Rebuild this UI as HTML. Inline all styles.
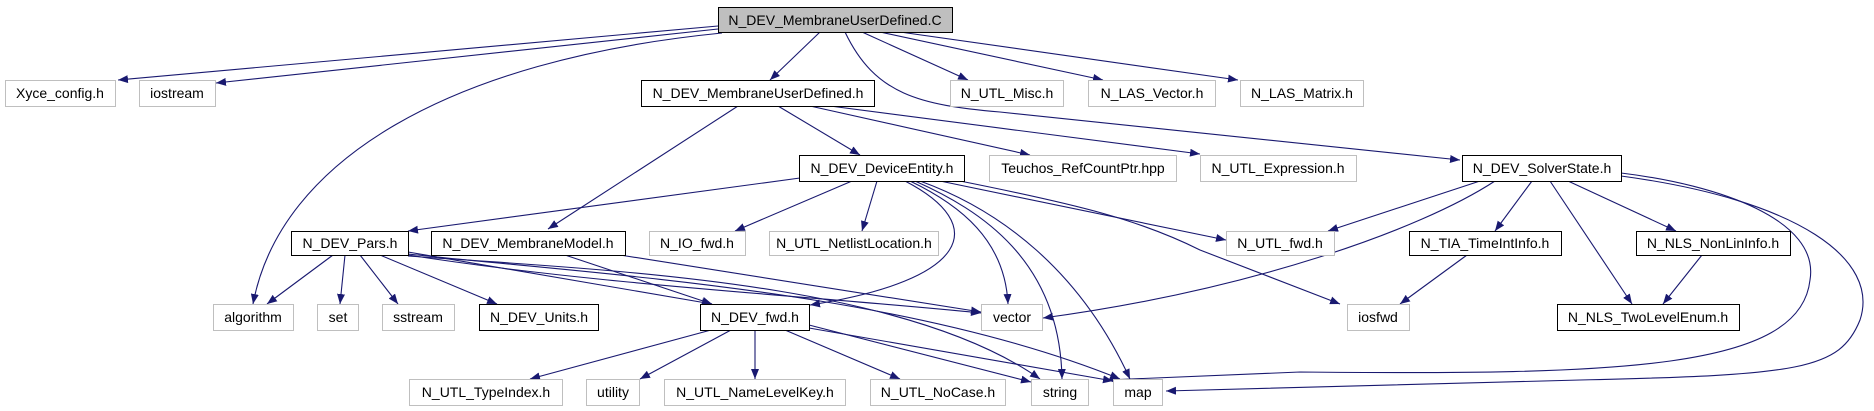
<!DOCTYPE html>
<html><head><meta charset="utf-8"><style>
html,body{margin:0;padding:0;background:#fff;}
svg{display:block;}
text{font-family:"Liberation Sans",Arial,sans-serif;font-size:14px;fill:#000;}
</style></head><body>
<svg width="1874" height="411" viewBox="0 0 1874 411" xmlns="http://www.w3.org/2000/svg">
<defs>
<marker id="a" markerWidth="10" markerHeight="8" refX="10" refY="4" orient="auto" markerUnits="userSpaceOnUse">
<path d="M0,0 L10,4 L0,8 z" fill="#191970"/>
</marker>
</defs>
<g fill="none" stroke="#191970" stroke-width="1.1" marker-end="url(#a)">
<path d="M718,26 L118,80"/>
<path d="M718,29 L216,83"/>
<path d="M722,33 C450,60 280,160 253,304"/>
<path d="M820,32 L770,80"/>
<path d="M862,32 L968,80"/>
<path d="M880,32 L1103,80"/>
<path d="M900,32 L1238,80"/>
<path d="M845,32 C875,95 920,105 1000,112 L1460,160"/>
<path d="M778,106 L860,155"/>
<path d="M738,106 L548,229"/>
<path d="M810,106 L1030,155"/>
<path d="M830,106 L1200,154"/>
<path d="M800,178 L408,231"/>
<path d="M852,181 L735,231"/>
<path d="M877,181 L862,231"/>
<path d="M905,181 C990,225 970,280 810,305"/>
<path d="M910,181 C960,205 1005,240 1008,304"/>
<path d="M915,181 C980,210 1060,260 1062,379"/>
<path d="M920,181 C1000,210 1080,270 1130,379"/>
<path d="M940,181 L1226,240"/>
<path d="M960,181 C1080,205 1140,220 1200,250 L1340,304"/>
<path d="M1480,181 L1328,231"/>
<path d="M1495,181 C1420,230 1250,290 1043,318"/>
<path d="M1532,181 L1495,231"/>
<path d="M1550,181 L1632,304"/>
<path d="M1568,181 L1676,231"/>
<path d="M1621,173 C1720,185 1820,220 1810,280 C1800,370 1620,375 1300,372 L1107,380"/>
<path d="M1621,176 C1800,200 1880,260 1860,320 C1840,370 1800,375 1580,380 L1166,391"/>
<path d="M1467,255 L1400,304"/>
<path d="M1702,255 L1663,304"/>
<path d="M333,255 L267,304"/>
<path d="M345,255 L340,304"/>
<path d="M360,255 L398,304"/>
<path d="M380,255 L497,304"/>
<path d="M408,252 L712,304"/>
<path d="M408,255 C600,285 800,295 981,313"/>
<path d="M408,256 C600,270 900,280 1040,379"/>
<path d="M408,254 C600,275 900,290 1120,379"/>
<path d="M565,255 L712,304"/>
<path d="M620,255 L981,312"/>
<path d="M711,330 L530,379"/>
<path d="M731,330 L640,379"/>
<path d="M755,330 L755,379"/>
<path d="M785,330 L900,379"/>
<path d="M809,325 L1031,382"/>
<path d="M809,328 L1113,381"/>
</g>
<g stroke-width="1">
<rect x="718.5" y="7.5" width="234" height="25" fill="#bfbfbf" stroke="#000"/>
<g fill="#fff" stroke="#bfbfbf">
<rect x="5.5" y="80.5" width="110" height="26"/>
<rect x="139.5" y="80.5" width="76" height="26"/>
<rect x="950.5" y="80.5" width="113" height="26"/>
<rect x="1088.5" y="80.5" width="127" height="26"/>
<rect x="1240.5" y="80.5" width="123" height="26"/>
<rect x="989.5" y="155.5" width="187" height="26"/>
<rect x="1200.5" y="155.5" width="156" height="26"/>
<rect x="649.5" y="231.5" width="96" height="24"/>
<rect x="769.5" y="231.5" width="169" height="24"/>
<rect x="1226.5" y="231.5" width="108" height="24"/>
<rect x="213.5" y="304.5" width="80" height="26"/>
<rect x="317.5" y="304.5" width="41" height="26"/>
<rect x="382.5" y="304.5" width="72" height="26"/>
<rect x="981.5" y="304.5" width="61" height="26"/>
<rect x="1347.5" y="304.5" width="62" height="26"/>
<rect x="409.5" y="379.5" width="153" height="26"/>
<rect x="586.5" y="379.5" width="53" height="26"/>
<rect x="664.5" y="379.5" width="181" height="26"/>
<rect x="870.5" y="379.5" width="135" height="26"/>
<rect x="1031.5" y="379.5" width="57" height="26"/>
<rect x="1113.5" y="379.5" width="49" height="26"/>
</g>
<g fill="#fff" stroke="#000">
<rect x="641.5" y="80.5" width="233" height="26"/>
<rect x="799.5" y="155.5" width="165" height="26"/>
<rect x="1462.5" y="155.5" width="159" height="26"/>
<rect x="291.5" y="231.5" width="117" height="24"/>
<rect x="431.5" y="231.5" width="194" height="24"/>
<rect x="1409.5" y="231.5" width="152" height="24"/>
<rect x="1636.5" y="231.5" width="154" height="24"/>
<rect x="479.5" y="304.5" width="119" height="26"/>
<rect x="700.5" y="304.5" width="109" height="26"/>
<rect x="1557.5" y="304.5" width="182" height="26"/>
</g>
</g>
<g text-anchor="middle">
<text x="835" y="25">N_DEV_MembraneUserDefined.C</text>
<text x="60" y="98">Xyce_config.h</text>
<text x="177" y="98">iostream</text>
<text x="758" y="98">N_DEV_MembraneUserDefined.h</text>
<text x="1007" y="98">N_UTL_Misc.h</text>
<text x="1152" y="98">N_LAS_Vector.h</text>
<text x="1302" y="98">N_LAS_Matrix.h</text>
<text x="882" y="173">N_DEV_DeviceEntity.h</text>
<text x="1083" y="173">Teuchos_RefCountPtr.hpp</text>
<text x="1278" y="173">N_UTL_Expression.h</text>
<text x="1542" y="173">N_DEV_SolverState.h</text>
<text x="350" y="248">N_DEV_Pars.h</text>
<text x="528" y="248">N_DEV_MembraneModel.h</text>
<text x="697" y="248">N_IO_fwd.h</text>
<text x="854" y="248">N_UTL_NetlistLocation.h</text>
<text x="1280" y="248">N_UTL_fwd.h</text>
<text x="1485" y="248">N_TIA_TimeIntInfo.h</text>
<text x="1713" y="248">N_NLS_NonLinInfo.h</text>
<text x="253" y="322">algorithm</text>
<text x="338" y="322">set</text>
<text x="418" y="322">sstream</text>
<text x="539" y="322">N_DEV_Units.h</text>
<text x="755" y="322">N_DEV_fwd.h</text>
<text x="1012" y="322">vector</text>
<text x="1378" y="322">iosfwd</text>
<text x="1648" y="322">N_NLS_TwoLevelEnum.h</text>
<text x="486" y="397">N_UTL_TypeIndex.h</text>
<text x="613" y="397">utility</text>
<text x="755" y="397">N_UTL_NameLevelKey.h</text>
<text x="938" y="397">N_UTL_NoCase.h</text>
<text x="1060" y="397">string</text>
<text x="1138" y="397">map</text>
</g>
</svg>
</body></html>
